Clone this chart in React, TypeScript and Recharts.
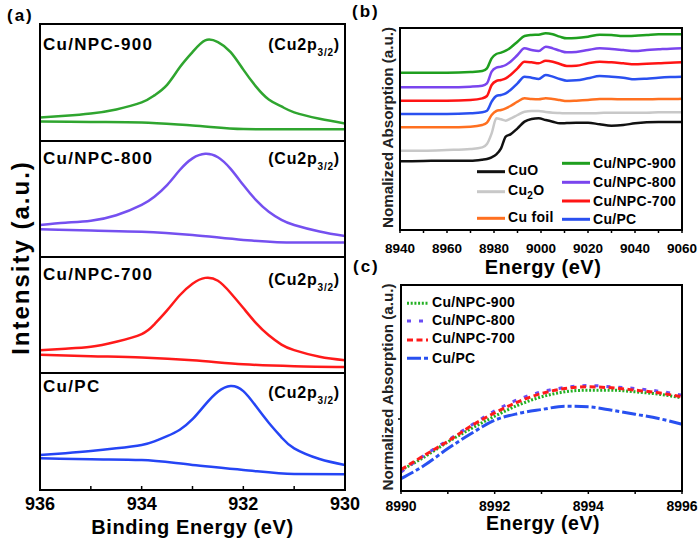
import React from 'react';
import { LineChart, Line, XAxis, YAxis } from 'recharts';

const FF = "'Liberation Sans', Arial, Helvetica, sans-serif";

// ---------- Panel (a): XPS Cu2p3/2 ----------
const xpsEnergy = [936, 935.5, 935, 934.5, 934, 933.75, 933.5, 933.25, 933, 932.75, 932.5, 932.25, 932, 931.75, 931.5, 931.25, 931, 930.5, 930];
const xps900 = [20, 21.5, 23.5, 27, 33, 39, 48, 63, 76, 86, 84.5, 76, 61, 46.5, 35.5, 29.5, 24.5, 19, 15];
const xps800 = [27.6, 29.5, 31.3, 36, 45, 52, 62, 75, 85, 89, 86, 76, 62, 49, 39, 32, 27.6, 22, 18];
const xps700 = [19.7, 21, 22.6, 27, 33.6, 42, 54, 67, 77, 82, 79.5, 69, 56, 43, 32.5, 24.5, 19.7, 14, 11];
const xpsPC = [29.9, 31.5, 33.3, 35.6, 38.5, 41.5, 46, 51.5, 60.5, 73, 84, 88.9, 84.5, 71.5, 57.5, 45, 35.6, 26.5, 21.4];
const xpsBaseEnergy = [936, 935, 934, 933, 932, 931, 930];
const base900 = [16.7, 16.3, 15.8, 13.2, 10.2, 10, 10];
const base800 = [23.9, 22.8, 21.8, 19, 14.7, 12.4, 12.4];
const base700 = [15.7, 14.5, 13.3, 11, 7.5, 5.8, 5.2];
const basePC = [27.1, 26.3, 25.6, 21.4, 17.1, 13.7, 13.4];
const xpsTicks = [936, 935, 934, 933, 932, 931, 930];
const xpsNames = ['Cu/NPC-900', 'Cu/NPC-800', 'Cu/NPC-700', 'Cu/PC'];

// ---------- Panel (b): XANES ----------
const xasEnergy = [8940, 8950, 8960, 8970, 8975, 8977, 8979, 8981, 8983, 8985, 8987, 8990, 8993, 8996, 8999, 9002, 9005, 9008, 9011, 9015, 9020, 9025, 9030, 9035, 9040, 9045, 9050, 9055, 9060];
const xasNPC900 = [4.72, 4.72, 4.72, 4.74, 4.77, 4.85, 5.15, 5.28, 5.32, 5.38, 5.47, 5.65, 5.82, 5.85, 5.86, 5.9, 5.87, 5.8, 5.75, 5.76, 5.8, 5.86, 5.85, 5.82, 5.83, 5.85, 5.87, 5.87, 5.87];
const xasNPC800 = [4.28, 4.28, 4.28, 4.3, 4.33, 4.4, 4.75, 4.87, 4.9, 4.95, 5.05, 5.25, 5.45, 5.4, 5.37, 5.5, 5.45, 5.38, 5.33, 5.34, 5.4, 5.45, 5.43, 5.4, 5.37, 5.4, 5.42, 5.44, 5.45];
const xasNPC700 = [3.88, 3.88, 3.88, 3.9, 3.95, 4.02, 4.35, 4.47, 4.5, 4.55, 4.65, 4.85, 5.05, 5.03, 5.0, 5.08, 5.05, 4.98, 4.92, 4.93, 5.0, 5.05, 5.03, 5.0, 4.97, 4.99, 5.0, 5.02, 5.03];
const xasPC = [3.48, 3.48, 3.48, 3.5, 3.53, 3.58, 3.85, 4.02, 4.05, 4.1, 4.2, 4.4, 4.6, 4.57, 4.53, 4.65, 4.6, 4.53, 4.48, 4.49, 4.55, 4.62, 4.6, 4.57, 4.52, 4.54, 4.57, 4.59, 4.6];
const xasCuFoil = [3.08, 3.08, 3.08, 3.1, 3.15, 3.22, 3.45, 3.57, 3.6, 3.65, 3.72, 3.85, 3.95, 3.93, 3.92, 3.95, 3.93, 3.9, 3.87, 3.88, 3.9, 3.93, 3.93, 3.92, 3.92, 3.92, 3.93, 3.93, 3.94];
const xasCu2O = [2.38, 2.38, 2.4, 2.43, 2.48, 2.58, 2.9, 3.35, 3.32, 3.28, 3.34, 3.45, 3.55, 3.57, 3.57, 3.54, 3.52, 3.51, 3.5, 3.5, 3.5, 3.51, 3.52, 3.52, 3.52, 3.52, 3.53, 3.53, 3.53];
const xasCuO = [2.06, 2.07, 2.08, 2.08, 2.11, 2.13, 2.18, 2.27, 2.45, 2.8, 2.87, 3.05, 3.25, 3.33, 3.35, 3.3, 3.25, 3.2, 3.21, 3.22, 3.22, 3.17, 3.13, 3.15, 3.2, 3.23, 3.24, 3.24, 3.24];
const xasTicks = [8940, 8950, 8960, 8970, 8980, 8990, 9000, 9010, 9020, 9030, 9040, 9050, 9060];

// ---------- Panel (c): zoomed XANES ----------
const zoomEnergy = [8990, 8990.5, 8991, 8991.5, 8992, 8992.5, 8993, 8993.5, 8994, 8994.5, 8995, 8995.5, 8996];
const zNPC900 = [0.62, 1.02, 1.47, 1.87, 2.24, 2.57, 2.82, 2.97, 3.02, 3.02, 2.97, 2.9, 2.79];
const zNPC800 = [0.57, 1.07, 1.52, 1.97, 2.4, 2.74, 2.97, 3.1, 3.16, 3.12, 3.07, 2.99, 2.87];
const zNPC700 = [0.64, 1.07, 1.49, 1.95, 2.34, 2.67, 2.92, 3.07, 3.12, 3.09, 3.02, 2.94, 2.82];
const zPC = [0.37, 0.77, 1.27, 1.72, 2.12, 2.32, 2.44, 2.54, 2.52, 2.42, 2.3, 2.17, 2.0];
const zoomTicks = [8990, 8991, 8992, 8993, 8994, 8995, 8996];

const xpsPanels = [
  { name: xpsNames[0], values: xps900, base: base900, color: '#2fa52f', top: 24, bottom: 141 },
  { name: xpsNames[1], values: xps800, base: base800, color: '#7550f0', top: 141, bottom: 257 },
  { name: xpsNames[2], values: xps700, base: base700, color: '#ff1a1a', top: 257, bottom: 373 },
  { name: xpsNames[3], values: xpsPC, base: basePC, color: '#2545f5', top: 373, bottom: 490 },
];

const tickFont = (fs: number) => ({ fontSize: fs, fontWeight: 'bold' as const, fill: '#000', fontFamily: FF });

// tick renderer: draws the tick mark (inward or outward) and optional label, at the library's tick coordinate
function makeTick(len: number, labelDy: number, fs: number, show: (v: number) => boolean) {
  return (props: any) => {
    const { x, y, payload } = props;
    const v = payload.value as number;
    return (
      <g>
        <line x1={x} x2={x} y1={y} y2={y + len} stroke="#000" strokeWidth={1.5} />
        {show(v) ? (
          <text x={x} y={y + labelDy} textAnchor="middle" {...tickFont(fs)}>
            {v}
          </text>
        ) : null}
      </g>
    );
  };
}

function XpsPanel({ p, last }: { p: any; last: boolean }) {
  const data = xpsEnergy.map((e, i) => ({ e, v: p.values[i] }));
  const baseData = xpsBaseEnergy.map((e, i) => ({ e, v: p.base[i] }));
  const plotH = p.bottom - p.top;
  const axisH = last ? 50 : 0;
  const mb = last ? 0 : 2;
  const tick = makeTick(-4, 20.2, 18, (v) => last && v % 2 === 0);
  return (
    <div style={{ position: 'absolute', left: 18, top: p.top - 2 }}>
      <LineChart width={344} height={plotH + 2 + mb + axisH} margin={{ top: 2, right: 17, bottom: mb, left: 22 }}>
        <XAxis
          dataKey="e"
          type="number"
          domain={[930, 936]}
          reversed
          ticks={xpsTicks}
          interval={0}
          height={axisH}
          tickSize={0}
          tickMargin={0}
          tickLine={false}
          axisLine={false}
          tick={tick}
          allowDataOverflow
        />
        <YAxis type="number" domain={[0, 100]} width={0} hide allowDataOverflow />
        <Line data={baseData} dataKey="v" type="monotone" stroke={p.color} strokeWidth={2.5} dot={false} isAnimationActive={false} />
        <Line data={data} dataKey="v" type="natural" stroke={p.color} strokeWidth={2.5} dot={false} isAnimationActive={false} />
      </LineChart>
    </div>
  );
}

const xasSeries = [
  { key: 'cuo', name: 'CuO', values: xasCuO, color: '#111111' },
  { key: 'cu2o', name: 'Cu2O', values: xasCu2O, color: '#c8c8c8' },
  { key: 'foil', name: 'Cu foil', values: xasCuFoil, color: '#ff7020' },
  { key: 'pc', name: 'Cu/PC', values: xasPC, color: '#2a50f0' },
  { key: 'n700', name: 'Cu/NPC-700', values: xasNPC700, color: '#ff1414' },
  { key: 'n800', name: 'Cu/NPC-800', values: xasNPC800, color: '#7a45ee' },
  { key: 'n900', name: 'Cu/NPC-900', values: xasNPC900, color: '#1f9f1f' },
];

const zoomSeries = [
  { key: 'n900', name: 'Cu/NPC-900', values: zNPC900, color: '#22b022', dash: '2 1.7' },
  { key: 'n800', name: 'Cu/NPC-800', values: zNPC800, color: '#6a4cf5', dash: '4 8' },
  { key: 'n700', name: 'Cu/NPC-700', values: zNPC700, color: '#ff1a1a', dash: '6 3.5' },
  { key: 'pc', name: 'Cu/PC', values: zPC, color: '#2850f0', dash: '14 3 4 3' },
];

function PanelB() {
  const data = xasEnergy.map((e, i) => {
    const row: any = { e };
    xasSeries.forEach((s) => (row[s.key] = s.values[i]));
    return row;
  });
  const tick = makeTick(3, 23, 13.5, (v) => (v - 8940) % 20 === 0);
  return (
    <div style={{ position: 'absolute', left: 370, top: 0 }}>
      <LineChart width={330} height={262} data={data} margin={{ top: 28, right: 18, bottom: 0, left: 0 }}>
        <XAxis
          dataKey="e"
          type="number"
          domain={[8940, 9060]}
          ticks={xasTicks}
          interval={0}
          height={32}
          tickSize={0}
          tickMargin={0}
          tickLine={false}
          axisLine={false}
          tick={tick}
        />
        <YAxis type="number" domain={[0, 6.06]} width={30} tick={false} tickLine={false} axisLine={false} />
        {xasSeries.map((s) => (
          <Line key={s.key} dataKey={s.key} type="monotone" stroke={s.color} strokeWidth={2.5} dot={false} isAnimationActive={false} />
        ))}
      </LineChart>
    </div>
  );
}

function PanelC() {
  const data = zoomEnergy.map((e, i) => {
    const row: any = { e };
    zoomSeries.forEach((s) => (row[s.key] = s.values[i]));
    return row;
  });
  const tick = makeTick(3, 19.7, 14, (v) => v % 2 === 0);
  return (
    <div style={{ position: 'absolute', left: 370, top: 283 }}>
      <LineChart width={330} height={258} data={data} margin={{ top: 2, right: 18, bottom: 0, left: 0 }}>
        <XAxis
          dataKey="e"
          type="number"
          domain={[8990, 8996]}
          ticks={zoomTicks}
          interval={0}
          height={50}
          tickSize={0}
          tickMargin={0}
          tickLine={false}
          axisLine={false}
          tick={tick}
        />
        <YAxis type="number" domain={[0, 6.17]} width={31} tick={false} tickLine={false} axisLine={false} />
        {zoomSeries.map((s) => (
          <Line key={s.key} dataKey={s.key} type="monotone" stroke={s.color} strokeWidth={3} strokeDasharray={s.dash} dot={false} isAnimationActive={false} />
        ))}
      </LineChart>
    </div>
  );
}

const labelYs = [49.5, 163.5, 279.5, 391.5];
const tagYs = [50, 164, 285, 398];

function Overlay() {
  const b = (fs: number) => ({ fontFamily: FF, fontWeight: 'bold' as const, fontSize: fs, fill: '#000' });
  const legB1 = [xasSeries[0], xasSeries[1], xasSeries[2]];
  const legB1Y = [175, 195, 221.7];
  const legB1L = [171.7, 191.7, 218.3];
  const legB2 = [xasSeries[6], xasSeries[5], xasSeries[4], xasSeries[3]];
  const legB2Y = [167.7, 186.7, 205.7, 224.3];
  const legB2L = [163.3, 182.3, 201, 219.3];
  const legCY = [306.7, 325, 343.3, 362.7];
  const legCL = [303.3, 321, 340, 358.3];
  const fr = { fill: 'none', stroke: '#000', strokeWidth: 2 };
  return (
    <svg width={700} height={541} style={{ position: 'absolute', left: 0, top: 0, pointerEvents: 'none' }}>
      {/* frames */}
      <rect x={40} y={24} width={305} height={466} {...fr} />
      {[141, 257, 373].map((y) => (
        <line key={y} x1={40} x2={345} y1={y} y2={y} stroke="#000" strokeWidth={2} />
      ))}
      <rect x={400} y={28} width={282} height={202} {...fr} />
      <rect x={401} y={285} width={281} height={206} {...fr} />
      <line x1={398} x2={401} y1={419} y2={419} stroke="#000" strokeWidth={1.5} />

      <text x={7} y={20.5} {...b(17)} letterSpacing={2}>(a)</text>
      <text x={352} y={17} {...b(17)} letterSpacing={2}>(b)</text>
      <text x={353} y={272} {...b(17)} letterSpacing={2}>(c)</text>

      {xpsPanels.map((p, i) => (
        <g key={p.name}>
          <text x={43} y={labelYs[i]} {...b(17)} letterSpacing={1.3}>{p.name}</text>
          <text x={340} y={tagYs[i]} {...b(16)} letterSpacing={0.8} textAnchor="end">
            <tspan>(Cu2p</tspan>
            <tspan fontSize={10} dy={6}>3/2</tspan>
            <tspan dy={-6}>)</tspan>
          </text>
        </g>
      ))}
      <text x={192.5} y={534} {...b(20)} letterSpacing={0.6} textAnchor="middle">Binding Energy (eV)</text>
      <text x={29} y={257.5} {...b(24)} letterSpacing={2} textAnchor="middle" transform="rotate(-90 29 257.5)">Intensity (a.u.)</text>

      <text x={393} y={127.5} {...b(15.2)} fill="#222" textAnchor="middle" transform="rotate(-90 393 127.5)">Nomalized Absorption (a.u.)</text>
      <text x={543} y={273.5} {...b(20)} letterSpacing={0.5} textAnchor="middle">Energy (eV)</text>
      {legB1.map((s, i) => (
        <g key={s.key}>
          <line x1={477} x2={505} y1={legB1L[i]} y2={legB1L[i]} stroke={s.color} strokeWidth={3} />
          {s.key === 'cu2o' ? (
            <text x={508} y={legB1Y[i]} {...b(14)} letterSpacing={0.3}>
              <tspan>Cu</tspan>
              <tspan fontSize={10} dy={4}>2</tspan>
              <tspan dy={-4}>O</tspan>
            </text>
          ) : (
            <text x={508} y={legB1Y[i]} {...b(14)} letterSpacing={0.3}>{s.name}</text>
          )}
        </g>
      ))}
      {legB2.map((s, i) => (
        <g key={s.key}>
          <line x1={562} x2={590} y1={legB2L[i]} y2={legB2L[i]} stroke={s.color} strokeWidth={3} />
          <text x={593} y={legB2Y[i]} {...b(14)} letterSpacing={0.3}>{s.name}</text>
        </g>
      ))}

      <text x={393} y={387} {...b(15.2)} fill="#222" textAnchor="middle" transform="rotate(-90 393 387)">Normalized Absorption (a.u.)</text>
      <text x={543} y={530} {...b(19.5)} letterSpacing={0.5} textAnchor="middle">Energy (eV)</text>
      {zoomSeries.map((s, i) => (
        <g key={s.key}>
          <line x1={407} x2={428} y1={legCL[i]} y2={legCL[i]} stroke={s.color} strokeWidth={3} strokeDasharray={s.dash} />
          <text x={432} y={legCY[i]} {...b(14)} letterSpacing={0.3}>{s.name}</text>
        </g>
      ))}
    </svg>
  );
}

export default function App() {
  return (
    <div style={{ position: 'absolute', left: 0, top: 0, width: 700, height: 541, background: '#fff', overflow: 'hidden' }}>
      {xpsPanels.map((p, i) => (
        <XpsPanel key={p.name} p={p} last={i === xpsPanels.length - 1} />
      ))}
      <PanelB />
      <PanelC />
      <Overlay />
    </div>
  );
}
